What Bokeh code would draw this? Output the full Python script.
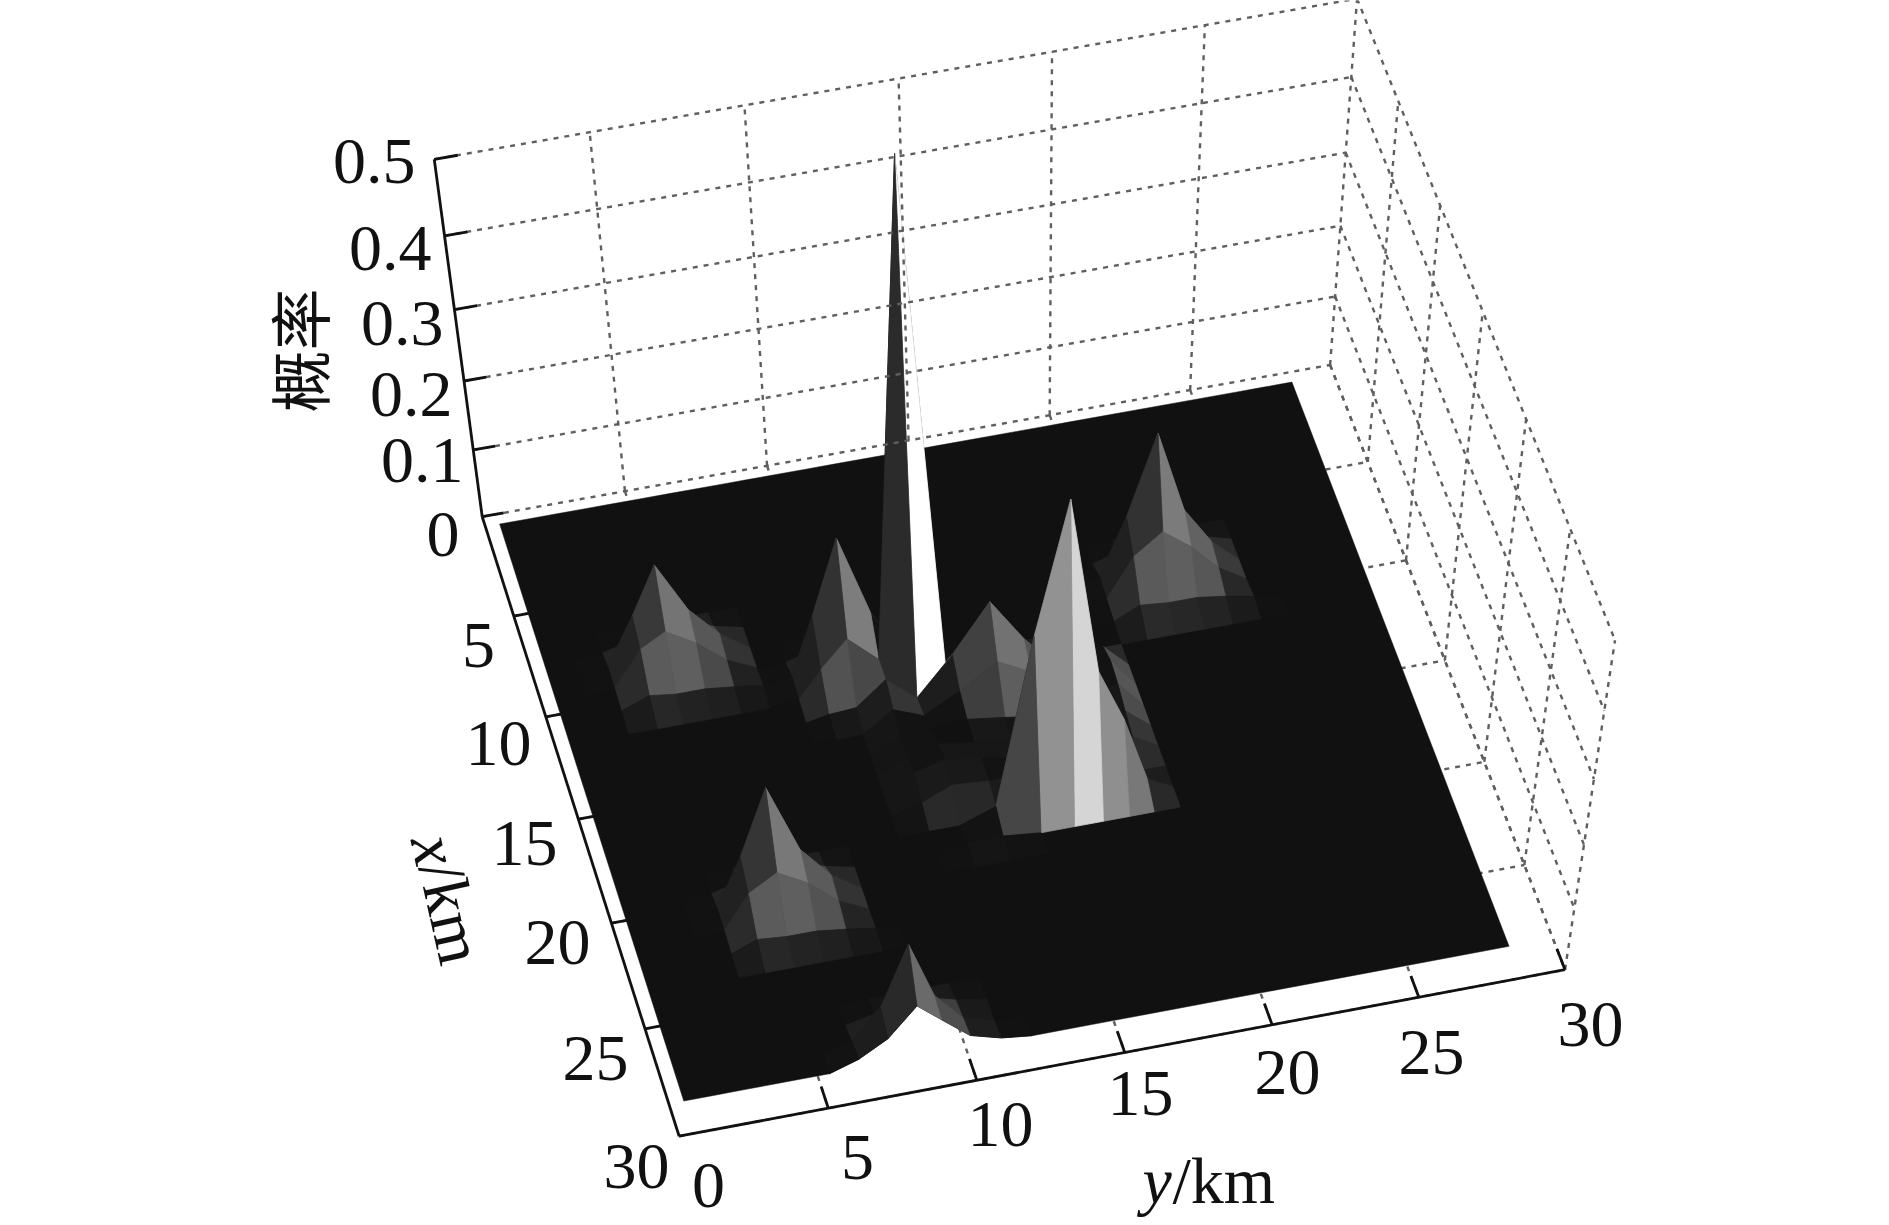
import numpy as np
from bokeh.plotting import figure
from bokeh.models import Range1d
from bokeh.core.properties import value
from bokeh.embed import file_html
from bokeh.resources import INLINE

# ---------------- chart content ----------------
z_ticks = [0, 0.1, 0.2, 0.3, 0.4, 0.5]
z_tick_labels = ["0", "0.1", "0.2", "0.3", "0.4", "0.5"]
x_ticks = [0, 5, 10, 15, 20, 25, 30]
y_ticks = [0, 5, 10, 15, 20, 25, 30]
x_tick_labels = ["5", "10", "15", "20", "25", "30"]
y_tick_labels = ["0", "5", "10", "15", "20", "25", "30"]

# surface grid (km), as read from the facets' edges
grid_x = [0.5 + k for k in range(29)]
grid_y = [0.5, 1.5, 2.5, 3.5, 4.4, 5.4, 6.4, 7.4, 8.4, 9.2, 10.15, 11.2, 12.25, 13.5, 14.8, 15.95,
          16.95, 17.85, 18.7, 19.6, 20.5, 21.5, 22.5, 23.5, 24.5, 25.5, 26.5, 27.5, 28.5]

# probability: (first row index, first column index, table)
bump_a = [[0, 0, 0, 0, 0, 0],
          [0, .010, .030, .025, .010, 0],
          [.010, .080, .150, .075, .030, 0],
          [.008, .060, .080, .055, .020, 0],
          [.004, .020, .015, .015, .010, .004],
          [0, 0, 0, 0, 0, 0]]
bump_b = [[0, 0, 0, 0, 0, 0],
          [0, .010, .030, .020, .010, 0],
          [.010, .095, .205, .085, .020, 0],
          [.005, .045, .085, .045, .010, 0],
          [0, .007, .010, .005, 0, 0],
          [0, 0, 0, 0, 0, 0]]
bump_c = [[0, 0, 0, 0, 0, 0],
          [0, .012, .035, .030, .012, 0],
          [.012, .095, .210, .090, .035, 0],
          [.008, .065, .095, .065, .025, 0],
          [.004, .022, .018, .018, .012, .004],
          [0, 0, 0, 0, 0, 0]]
bump_d = [[0, 0, 0, 0, 0, 0],
          [0, .010, .030, .025, .010, 0],
          [.010, .085, .185, .080, .030, 0],
          [.008, .060, .085, .060, .022, 0],
          [.004, .020, .016, .016, .010, .003],
          [0, 0, 0, 0, 0, 0]]
bump_e = [[0, 0, 0, 0, 0, 0],
          [0, .010, .028, .022, .008, 0],
          [.008, .065, .135, .070, .025, 0],
          [.004, .040, .075, .050, .015, 0],
          [0, .015, .015, .012, .004, 0],
          [0, 0, 0, 0, 0, 0]]
bump_f = [[0, 0, 0, 0, 0, 0],
          [0, .010, .025, .020, .008, 0],
          [.008, .055, .150, .060, .014, 0],
          [.015, .040, .085, .055, .020, .006]]
spike = [[0, .005, .010, 0, 0],
         [.004, .012, .730, .005, 0],
         [.004, .045, .004, 0, 0],
         [0, .030, .012, .006, 0]]
cone = [[0, .012, .030, .030, .020, .010, 0, 0],
        [0, .020, .270, .455, .200, .120, .020, 0],
        [.006, .006, 0, 0, 0, 0, 0, 0]]
low_field = [[0, 0, .020, .004, 0, 0, 0, 0, .030, .035, 0],
             [0, 0, .006, .004, .024, .016, 0, 0, .040, .045, 0],
             [0, 0, .016, .024, .028, .020, .012, 0, .035, .040, 0],
             [0, 0, .020, .032, .024, .016, .012, 0, .028, .030, 0],
             [0, 0, .028, .040, .032, .020, .012, 0, .020, .022, 0],
             [0, 0, .012, .032, .028, .024, .012, 0, 0, 0, 0]]
bumps = [(6, 2, bump_a), (8, 8, bump_b), (6, 19, bump_c), (18, 3, bump_d),
         (10, 12, bump_e), (25, 6, bump_f), (10, 10, spike), (17, 12, cone),
         (12, 9, low_field)]

# ---------------- camera ----------------
calib_world = [(0, 0, 0), (30, 0, 0), (30, 30, 0), (0, 30, 0), (0, 0, .5), (30, 30, .5), (0, 30, .5),
               (0, 0, .1), (0, 0, .2), (0, 0, .3), (0, 0, .4)]
calib_image = [(481.7, 515), (679.3, 1136), (1565, 970.7), (1328, 364), (432.7, 159.3), (1613.3, 637.8),
               (1359, -1), (473.3, 448.3), (464, 381.7), (454, 310), (443.3, 235)]
rows = []
rhs = []
for (X, Y, Z), (u, v) in zip(calib_world, calib_image):
    Z = Z * 60
    rows.append([X, Y, Z, 1, 0, 0, 0, 0, -u * X, -u * Y, -u * Z])
    rhs.append(u)
    rows.append([0, 0, 0, 0, X, Y, Z, 1, -v * X, -v * Y, -v * Z])
    rhs.append(v)
sol = np.linalg.lstsq(np.array(rows, float), np.array(rhs, float), rcond=None)[0]
P = np.append(sol, 1.0).reshape(3, 4)
cam = np.linalg.svd(P)[2][-1]
cam = cam[:3] / cam[3]


def project(x, y, z):
    h = P @ np.array([x, y, z * 60, 1.0])
    return float(h[0] / h[2]), float(h[1] / h[2])


def seg(a, b):
    pa, pb = project(*a), project(*b)
    return [pa[0], pb[0]], [pa[1], pb[1]]


# ---------------- surface ----------------
Z = np.zeros((len(grid_x), len(grid_y)))
for r0, c0, tab in bumps:
    t = np.array(tab, float)
    r1, c1 = r0 + t.shape[0], c0 + t.shape[1]
    Z[r0:r1, c0:c1] = np.maximum(Z[r0:r1, c0:c1], t)


def shade(p00, p10, p11, p01):
    d1 = np.array(p11) - np.array(p00)
    d2 = np.array(p01) - np.array(p10)
    n = np.cross(d2, d1)
    n = n / np.linalg.norm(n)
    if n[2] < 0:
        n = -n
    nz = n[2]
    az = np.degrees(np.arctan2(n[1], n[0]))
    f = np.interp(az, [-180, -90, -45, -13, 14, 20, 45, 90, 180], [0, 0, 0, .5, .6, .78, 1, .5, 0])
    g = np.interp(nz, [0, .03, .07, .15, .3, 1], [1, 1, .8, .3, .18, 0])
    b = np.interp(nz, [0, .1, .3, .5, .75, 1], [0, .1, .2, .07, .03, 0])
    b = b * np.interp(az, [-180, -70, -45], [.4, .4, 1])
    s = min(1.0, .065 + f * g + b)
    c = int(round(s * 255))
    return "#%02x%02x%02x" % (c, c, c)


row_order = sorted(range(len(grid_x) - 1), key=lambda i: -abs(grid_x[i] + .5 - cam[0]))
col_order = sorted(range(len(grid_y) - 1), key=lambda j: -abs(grid_y[j] + .5 - cam[1]))
xs, ys, colors = [], [], []
for i in row_order:
    for j in col_order:
        corners = [(i, j), (i + 1, j), (i + 1, j + 1), (i, j + 1)]
        if max(Z[a, b] for a, b in corners) == 0:
            continue
        pix = [project(grid_x[a], grid_y[b], Z[a, b]) for a, b in corners]
        xs.append([q[0] for q in pix])
        ys.append([q[1] for q in pix])
        w = [(grid_x[a], grid_y[b], Z[a, b] * 60) for a, b in corners]
        colors.append(shade(*w))

n_x, n_y = len(grid_x), len(grid_y)
rim = [(0, j) for j in range(n_y)] + [(i, n_y - 1) for i in range(1, n_x)] + \
      [(n_x - 1, j) for j in range(n_y - 2, -1, -1)] + [(i, 0) for i in range(n_x - 2, 0, -1)]
rim_pix = [project(grid_x[a], grid_y[b], Z[a, b]) for a, b in rim]

# ---------------- figure ----------------
W, H = 1889, 1225
p = figure(width=W, height=H, x_range=Range1d(0, W), y_range=Range1d(H, 0),
           output_backend="svg", toolbar_location=None, min_border=0,
           background_fill_color="white", border_fill_color="white", outline_line_color=None)
p.axis.visible = False
p.grid.visible = False

GRID = "#5f5f5f"
DASH = "5 6"
floor_lines = [seg((t, 0, 0), (t, 30, 0)) for t in x_ticks[1:]] + [seg((0, t, 0), (30, t, 0)) for t in y_ticks[1:]]
p.multi_line([s[0] for s in floor_lines], [s[1] for s in floor_lines], line_color=GRID, line_width=2.4, line_dash=DASH)

p.patch([q[0] for q in rim_pix], [q[1] for q in rim_pix], fill_color="#111111", line_color="#111111", line_width=0.5)
p.patches(xs, ys, fill_color=colors, line_color=colors, line_width=0.8)

wall_lines = []
for t in z_ticks:
    wall_lines.append(seg((0, 0, t), (0, 30, t)))
    wall_lines.append(seg((0, 30, t), (30, 30, t)))
for t in y_ticks[1:]:
    wall_lines.append(seg((0, t, 0), (0, t, z_ticks[-1])))
for t in x_ticks[1:]:
    wall_lines.append(seg((t, 30, 0), (t, 30, z_ticks[-1])))
p.multi_line([s[0] for s in wall_lines], [s[1] for s in wall_lines], line_color=GRID, line_width=2.4, line_dash=DASH)

ax_lines = [seg((0, 0, 0), (0, 0, z_ticks[-1])), seg((0, 0, 0), (30, 0, 0)), seg((30, 0, 0), (30, 30, 0))]
p.multi_line([s[0] for s in ax_lines], [s[1] for s in ax_lines], line_color="#111111", line_width=2.8)
tick_lines = [seg((0, 0, t), (0, .75, t)) for t in z_ticks]
tick_lines += [seg((t, 0, 0), (t, .75, 0)) for t in x_ticks[1:-1]]
tick_lines += [seg((30, t, 0), (29, t, 0)) for t in y_ticks[1:]]
p.multi_line([s[0] for s in tick_lines], [s[1] for s in tick_lines], line_color="#111111", line_width=2.8)

SERIF = value("Liberation Serif")
SIZE = value("66px")
z_lab_x = [459, 463, 452, 443, 431, 415]
z_lab_y = [534, 460, 394, 323, 248, 161]
p.text(z_lab_x, z_lab_y, text=z_tick_labels, text_font=SERIF, text_font_size=SIZE, text_align="right",
       text_baseline="middle", text_color="#111111")
x_lab_x = [478, 498, 524, 557, 595, 636]
x_lab_y = [645, 743, 843, 942, 1058, 1166]
p.text(x_lab_x, x_lab_y, text=x_tick_labels, text_font=SERIF, text_font_size=SIZE, text_align="center",
       text_baseline="middle", text_color="#111111")
y_lab_x = [708, 857, 1000, 1140, 1287, 1431, 1590]
y_lab_y = [1185, 1157, 1124, 1093, 1072, 1052, 1024]
p.text(y_lab_x, y_lab_y, text=y_tick_labels, text_font=SERIF, text_font_size=SIZE, text_align="center",
       text_baseline="middle", text_color="#111111")

p.text([1142], [1180], text=["y"], text_font=SERIF, text_font_style="italic", text_font_size=SIZE,
       text_align="left", text_baseline="middle", text_color="#111111")
p.text([1172], [1180], text=["/km"], text_font=SERIF, text_font_size=SIZE,
       text_align="left", text_baseline="middle", text_color="#111111")
p.text([432], [835], text=["x"], text_font=SERIF, text_font_style="italic", text_font_size=SIZE,
       text_align="left", text_baseline="alphabetic", text_color="#111111", angle=-1.35)
p.text([440], [862], text=["/km"], text_font=SERIF, text_font_size=SIZE,
       text_align="left", text_baseline="alphabetic", text_color="#111111", angle=-1.35)
p.text([297], [350], text=["概率"], text_font=value("Noto Sans CJK SC"), text_font_size=value("62px"),
       text_align="center", text_baseline="middle", text_color="#111111", angle=1.5708)

open("out.html", "w").write(file_html(p, INLINE))
